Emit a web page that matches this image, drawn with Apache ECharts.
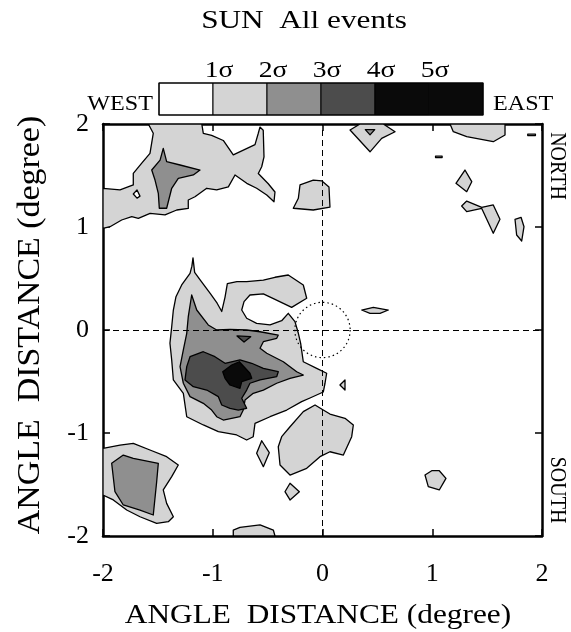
<!DOCTYPE html>
<html>
<head>
<meta charset="utf-8">
<script src="https://cdn.jsdelivr.net/npm/echarts@6/dist/echarts.min.js"></script>
<style>
html,body{margin:0;padding:0;background:#fff;}
#chart{width:571px;height:632px;}
</style>
</head>
<body>
<div id="chart"></div>
<script>
// ---------- data (degrees) ----------
const xTickValues = [-2, -1, 0, 1, 2];
const xTickLabels = ['-2', '-1', '0', '1', '2'];
const yTickValues = [-2, -1, 0, 1, 2];
const yTickLabels = ['-2', '-1', '0', '1', '2'];

const sigmaLabels = ['1σ', '2σ', '3σ', '4σ', '5σ'];
const levelColors = ['#ffffff', '#d4d4d4', '#8f8f8f', '#4c4c4c', '#0a0a0a', '#0a0a0a'];

const sunCenter = [[0, 0]];
const sunRadius = 0.26;

// >= 1 sigma contours
const level1Regions = [
  [[-1.587,2.0],[-1.10,2.0],[-1.086,1.91],[-1.01,1.89],[-0.904,1.84],[-0.813,1.70],[-0.615,1.80],[-0.585,1.91],[-0.57,1.97],[-0.54,1.94],[-0.533,1.68],[-0.554,1.585],[-0.585,1.52],[-0.494,1.42],[-0.433,1.34],[-0.442,1.245],[-0.508,1.31],[-0.60,1.376],[-0.69,1.424],[-0.797,1.505],[-0.858,1.39],[-0.964,1.36],[-1.055,1.376],[-1.162,1.294],[-1.223,1.262],[-1.223,1.18],[-1.328,1.165],[-1.435,1.117],[-1.571,1.133],[-1.678,1.084],[-1.738,1.10],[-1.83,1.068],[-1.936,1.003],[-2.0,0.987],[-2.0,1.376],[-1.845,1.36],[-1.724,1.408],[-1.724,1.52],[-1.647,1.62],[-1.572,1.715],[-1.542,1.91]],
  [[-0.205,1.408],[-0.084,1.456],[-0.005,1.447],[0.059,1.388],[0.068,1.194],[-0.084,1.165],[-0.266,1.182],[-0.22,1.279]],
  [[0.251,1.942],[0.342,2.0],[0.554,2.0],[0.661,1.925],[0.539,1.86],[0.433,1.73]],
  [[1.162,2.0],[1.192,1.925],[1.314,1.877],[1.556,1.828],[1.663,1.893],[1.663,2.0]],
  [[1.87,1.902],[1.94,1.902],[1.94,1.888],[1.87,1.888]],
  [[1.03,1.688],[1.09,1.688],[1.09,1.674],[1.03,1.674]],
  [[1.298,1.553],[1.36,1.44],[1.314,1.343],[1.216,1.424]],
  [[1.268,1.204],[1.314,1.252],[1.451,1.191],[1.556,1.214],[1.617,1.075],[1.556,0.939],[1.451,1.18],[1.314,1.149]],
  [[1.754,1.075],[1.809,1.094],[1.836,1.003],[1.815,0.864],[1.769,0.922]],
  [[0.357,0.194],[0.463,0.22],[0.60,0.194],[0.524,0.162],[0.433,0.162]],
  [[0.159,-0.534],[0.205,-0.485],[0.205,-0.583]],
  [[-1.18,0.70],[-1.165,0.56],[-1.11,0.48],[-1.02,0.35],[-0.96,0.26],[-0.918,0.18],[-0.888,0.32],[-0.867,0.45],[-0.78,0.47],[-0.691,0.469],[-0.539,0.485],[-0.433,0.512],[-0.312,0.534],[-0.175,0.437],[-0.144,0.308],[-0.281,0.22],[-0.357,0.259],[-0.433,0.298],[-0.539,0.35],[-0.661,0.34],[-0.715,0.275],[-0.736,0.194],[-0.691,0.114],[-0.60,0.065],[-0.478,0.049],[-0.372,0.09],[-0.312,0.162],[-0.251,0.081],[-0.22,-0.032],[-0.199,-0.129],[-0.175,-0.308],[-0.053,-0.372],[0.038,-0.42],[0.023,-0.517],[0.007,-0.602],[-0.114,-0.66],[-0.19,-0.696],[-0.326,-0.777],[-0.478,-0.842],[-0.615,-0.906],[-0.631,-1.036],[-0.691,-1.068],[-0.782,-1.019],[-0.949,-0.987],[-1.086,-0.922],[-1.237,-0.842],[-1.268,-0.615],[-1.359,-0.485],[-1.374,-0.291],[-1.39,-0.129],[-1.374,0.032],[-1.359,0.194],[-1.335,0.323],[-1.283,0.437],[-1.207,0.55],[-1.19,0.62]],
  [[-0.068,-0.728],[0.007,-0.777],[0.068,-0.816],[0.205,-0.857],[0.281,-0.922],[0.266,-1.036],[0.19,-1.214],[0.068,-1.182],[-0.023,-1.23],[-0.144,-1.343],[-0.296,-1.408],[-0.387,-1.311],[-0.403,-1.133],[-0.372,-1.036],[-0.296,-0.939],[-0.175,-0.793]],
  [[-0.554,-1.075],[-0.485,-1.191],[-0.539,-1.327],[-0.60,-1.197]],
  [[-0.296,-1.488],[-0.211,-1.57],[-0.296,-1.65],[-0.342,-1.57]],
  [[-0.813,-1.942],[-0.752,-1.916],[-0.569,-1.893],[-0.448,-1.942],[-0.433,-2.0],[-0.813,-2.0]],
  [[0.934,-1.408],[0.995,-1.366],[1.064,-1.366],[1.125,-1.44],[1.064,-1.553],[0.964,-1.521]],
  [[-2.0,-1.149],[-1.845,-1.117],[-1.724,-1.1],[-1.572,-1.165],[-1.42,-1.23],[-1.314,-1.311],[-1.374,-1.424],[-1.451,-1.553],[-1.42,-1.683],[-1.359,-1.813],[-1.405,-1.861],[-1.511,-1.877],[-1.663,-1.813],[-1.784,-1.748],[-1.906,-1.65],[-2.0,-1.602]]
];

// below 1 sigma holes inside 1 sigma areas
const holeRegions = [
  [[-1.724,1.32],[-1.69,1.36],[-1.663,1.30],[-1.69,1.28]]
];

// >= 2 sigma contours
const level2Regions = [
  [[-1.451,1.764],[-1.42,1.634],[-1.298,1.602],[-1.116,1.553],[-1.177,1.505],[-1.314,1.473],[-1.374,1.376],[-1.42,1.182],[-1.487,1.182],[-1.496,1.327],[-1.526,1.456],[-1.556,1.553],[-1.48,1.65]],
  [[0.39,1.945],[0.476,1.945],[0.433,1.895]],
  [[-1.192,0.34],[-1.146,0.194],[-1.041,0.049],[-0.964,0.0],[-0.843,0.007],[-0.691,0.0],[-0.569,-0.017],[-0.403,-0.049],[-0.417,-0.081],[-0.539,-0.114],[-0.569,-0.178],[-0.508,-0.226],[-0.357,-0.308],[-0.235,-0.405],[-0.175,-0.437],[-0.296,-0.469],[-0.417,-0.517],[-0.539,-0.583],[-0.631,-0.615],[-0.706,-0.68],[-0.722,-0.777],[-0.752,-0.842],[-0.904,-0.874],[-0.964,-0.842],[-1.01,-0.777],[-1.086,-0.712],[-1.207,-0.647],[-1.268,-0.517],[-1.298,-0.356],[-1.268,-0.194],[-1.237,-0.032],[-1.223,0.129]],
  [[-1.921,-1.294],[-1.815,-1.214],[-1.724,-1.246],[-1.496,-1.294],[-1.511,-1.473],[-1.542,-1.796],[-1.663,-1.748],[-1.815,-1.699],[-1.891,-1.57]]
];

// >= 3 sigma contours
const level3Regions = [
  [[-1.207,-0.259],[-1.086,-0.211],[-0.98,-0.259],[-0.888,-0.323],[-0.752,-0.291],[-0.645,-0.323],[-0.539,-0.372],[-0.403,-0.405],[-0.417,-0.453],[-0.569,-0.485],[-0.661,-0.517],[-0.691,-0.583],[-0.736,-0.663],[-0.691,-0.76],[-0.767,-0.777],[-0.843,-0.76],[-0.918,-0.728],[-0.949,-0.647],[-1.055,-0.583],[-1.177,-0.55],[-1.253,-0.485],[-1.237,-0.356]],
  [[-0.779,-0.058],[-0.654,-0.065],[-0.715,-0.117]]
];

// >= 4 sigma contours
const level4Regions = [
  [[-0.909,-0.405],[-0.827,-0.34],[-0.758,-0.308],[-0.661,-0.42],[-0.645,-0.469],[-0.736,-0.502],[-0.752,-0.566],[-0.843,-0.534],[-0.888,-0.469]]
];

// ---------- chart ----------
const FONT = '"Liberation Serif", "Times New Roman", serif';

function contourSeries(name, regions, color, z) {
  return {
    type: 'custom',
    name: name,
    coordinateSystem: 'cartesian2d',
    xAxisIndex: 0,
    yAxisIndex: 0,
    z: z,
    silent: true,
    clip: true,
    data: regions.map((r, i) => [r[0][0], r[0][1], i]),
    renderItem: function (params, api) {
      const pts = regions[params.dataIndex].map(p => api.coord(p));
      return {
        type: 'polygon',
        shape: { points: pts },
        style: { fill: color, stroke: '#000', lineWidth: 1.3, lineJoin: 'round' }
      };
    }
  };
}

const chart = echarts.init(document.getElementById('chart'), null, { renderer: 'canvas' });

// colour bar graphics (layout only)
const barLeft = 159, barTop = 83, segW = 54, barH = 32;
const graphics = [];
for (let i = 0; i < levelColors.length; i++) {
  graphics.push({
    type: 'rect',
    shape: { x: barLeft + i * segW, y: barTop, width: segW, height: barH },
    style: { fill: levelColors[i], stroke: i < 5 ? '#000' : levelColors[i], lineWidth: 1 }
  });
}
graphics.push({
  type: 'rect',
  shape: { x: barLeft, y: barTop, width: segW * levelColors.length, height: barH },
  style: { fill: 'none', stroke: '#000', lineWidth: 1.2 }
});
sigmaLabels.forEach((s, i) => {
  graphics.push({
    type: 'text', x: barLeft + (i + 1) * segW + 6, y: 71, scaleX: 1.15,
    style: { text: s, font: '24px ' + FONT, fill: '#000', textAlign: 'center', textVerticalAlign: 'middle' }
  });
});
graphics.push(
  { type: 'text', x: 304, y: 21, scaleX: 1.25,
    style: { text: 'SUN  All events', font: '25px ' + FONT, fill: '#000', textAlign: 'center', textVerticalAlign: 'middle' } },
  { type: 'text', x: 153, y: 104, scaleX: 1.15,
    style: { text: 'WEST', font: '21px ' + FONT, fill: '#000', textAlign: 'right', textVerticalAlign: 'middle' } },
  { type: 'text', x: 493, y: 104, scaleX: 1.15,
    style: { text: 'EAST', font: '21px ' + FONT, fill: '#000', textAlign: 'left', textVerticalAlign: 'middle' } },
  { type: 'text', x: 557, y: 166, rotation: -Math.PI / 2, scaleY: 1.15,
    style: { text: 'NORTH', font: '20px ' + FONT, fill: '#000', textAlign: 'center', textVerticalAlign: 'middle' } },
  { type: 'text', x: 557, y: 490, rotation: -Math.PI / 2, scaleY: 1.15,
    style: { text: 'SOUTH', font: '20px ' + FONT, fill: '#000', textAlign: 'center', textVerticalAlign: 'middle' } },
  { type: 'text', x: 318, y: 616, scaleX: 1.16,
    style: { text: 'ANGLE  DISTANCE (degree)', font: '27px ' + FONT, fill: '#000', textAlign: 'center', textVerticalAlign: 'middle' } },
  { type: 'text', x: 31, y: 325, rotation: Math.PI / 2, scaleX: 1.17, scaleY: 1.1,
    style: { text: 'ANGLE  DISTANCE (degree)', font: '29px ' + FONT, fill: '#000', textAlign: 'center', textVerticalAlign: 'middle' } }
);

function axisCommon(showLabel, labels, values, margin) {
  return {
    min: -2, max: 2, interval: 1,
    axisLine: { show: true, onZero: false, lineStyle: { color: '#000', width: 2.5 } },
    axisTick: { show: true, inside: true, length: 7, lineStyle: { color: '#000', width: 1.5 } },
    splitLine: { show: false },
    axisLabel: {
      show: showLabel, margin: margin, color: '#000', fontSize: 26, fontFamily: FONT,
      formatter: v => { const k = values.indexOf(v); return k >= 0 ? labels[k] : ''; }
    }
  };
}

const option = {
  animation: false,
  backgroundColor: '#fff',
  grid: { left: 103, right: 29, top: 124, bottom: 96, containLabel: false },
  xAxis: [
    Object.assign({ type: 'value', position: 'bottom' }, axisCommon(true, xTickLabels, xTickValues, 25)),
    Object.assign({ type: 'value', position: 'top' }, axisCommon(false, xTickLabels, xTickValues, 8))
  ],
  yAxis: [
    Object.assign({ type: 'value', position: 'left' }, axisCommon(true, yTickLabels, yTickValues, 14)),
    Object.assign({ type: 'value', position: 'right' }, axisCommon(false, yTickLabels, yTickValues, 8))
  ],
  graphic: graphics,
  series: [
    contourSeries('1 sigma', level1Regions, levelColors[1], 2),
    contourSeries('holes', holeRegions, levelColors[0], 3),
    contourSeries('2 sigma', level2Regions, levelColors[2], 4),
    contourSeries('3 sigma', level3Regions, levelColors[3], 5),
    contourSeries('4 sigma', level4Regions, levelColors[4], 6),
    {
      type: 'custom',
      name: 'sun',
      coordinateSystem: 'cartesian2d',
      z: 7,
      silent: true,
      data: sunCenter,
      renderItem: function (params, api) {
        const c = api.coord(sunCenter[params.dataIndex]);
        const s = api.size([sunRadius, sunRadius]);
        return {
          type: 'circle',
          shape: { cx: c[0], cy: c[1], r: (s[0] + s[1]) / 2 },
          style: { fill: 'none', stroke: '#000', lineWidth: 1.2, lineDash: [1.5, 3] }
        };
      },
      markLine: {
        silent: true,
        symbol: ['none', 'none'],
        label: { show: false },
        lineStyle: { color: '#000', width: 1, type: [6, 4] },
        data: [{ xAxis: 0 }, { yAxis: 0 }]
      }
    }
  ]
};
chart.setOption(option);
</script>
</body>
</html>
